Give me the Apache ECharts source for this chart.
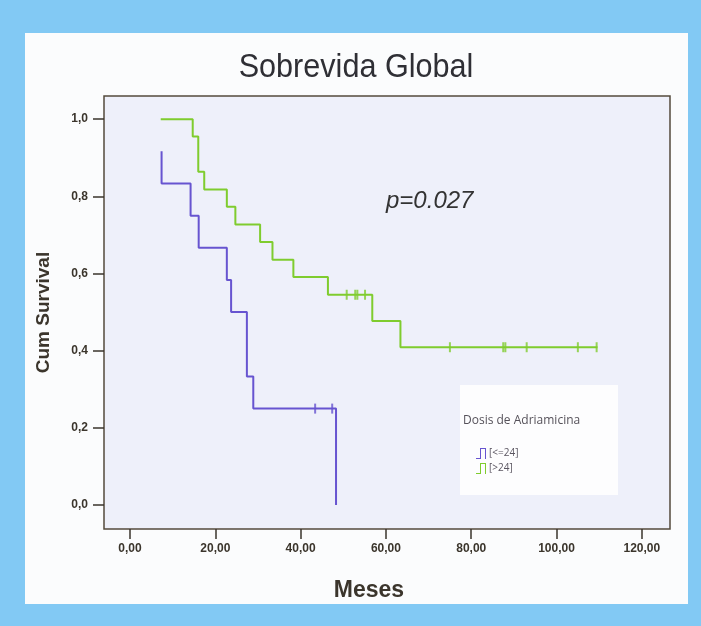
<!DOCTYPE html>
<html>
<head>
<meta charset="utf-8">
<script src="https://cdn.jsdelivr.net/npm/echarts@6/dist/echarts.min.js"></script>
<style>
  html, body { margin: 0; padding: 0; }
  #frame { position: relative; width: 701px; height: 626px; background: #82c9f4; }
  #panel { position: absolute; left: 25px; top: 33px; width: 663px; height: 571px; background: #fbfcfd; }
  #main { position: absolute; left: 0; top: 0; width: 701px; height: 626px; }
</style>
</head>
<body>
<div id="frame">
  <div id="panel"></div>
  <div id="main"></div>
</div>
<script>
// Kaplan-Meier steps: [month, cumulative survival]
const lowDose = [[7.4, 0.917], [7.4, 0.833], [14.2, 0.75], [16.1, 0.667], [22.7, 0.583],
  [23.7, 0.5], [27.4, 0.333], [28.9, 0.25], [48.3, 0.0]]
const highDose = [[7.2, 1.0], [14.7, 0.955], [16.0, 0.864], [17.4, 0.818], [22.7, 0.773],
  [24.7, 0.727], [30.5, 0.682], [33.4, 0.636], [38.3, 0.591], [46.4, 0.545],
  [56.8, 0.477], [63.4, 0.409], [109.6, 0.409]]
// censored observations
const lowCensored = [[43.4, 0.25], [47.4, 0.25]]
const highCensored = [[50.8, 0.545], [52.8, 0.545], [53.3, 0.545], [55.1, 0.545],
  [75.0, 0.409], [87.5, 0.409], [88.0, 0.409], [93.0, 0.409], [105.0, 0.409], [109.4, 0.409]]

const xTicks = [0, 20, 40, 60, 80, 100, 120]
const yTicks = [0, 0.2, 0.4, 0.6, 0.8, 1.0]
const groupNames = ['[<=24]', '[>24]']

const blue = '#6754d0'
const green = '#7fcc2e'
const ink = '#3b352c'

const chart = echarts.init(document.getElementById('main'))

const option = {
  animation: false,
  grid: {
    left: 104, right: 31, top: 96, bottom: 97,
    show: true,
    backgroundColor: '#eef0fa',
    borderColor: '#544a3c',
    borderWidth: 1.5
  },
  xAxis: {
    type: 'value',
    min: -6.1,
    max: 126.6,
    name: 'Meses',
    nameLocation: 'middle',
    nameGap: 50,
    nameTextStyle: {
      fontFamily: 'Liberation Sans', fontSize: 23, fontWeight: 'bold', color: ink,
      padding: [0, 36, 0, 0]
    },
    axisLine: { show: false, onZero: false },
    axisTick: { show: true, length: 10, customValues: xTicks, lineStyle: { color: ink, width: 1.5 } },
    axisLabel: {
      customValues: xTicks,
      margin: 14,
      fontFamily: 'Liberation Sans',
      fontSize: 12,
      fontWeight: 'bold',
      color: ink,
      formatter: v => v.toFixed(2).replace('.', ',')
    },
    splitLine: { show: false }
  },
  yAxis: {
    type: 'value',
    min: -0.062,
    max: 1.06,
    name: 'Cum Survival',
    nameLocation: 'middle',
    nameGap: 51,
    nameTextStyle: { fontFamily: 'Liberation Sans', fontSize: 19, fontWeight: 'bold', color: ink },
    axisLine: { show: false, onZero: false },
    axisTick: { show: true, length: 11, customValues: yTicks, lineStyle: { color: ink, width: 1.5 } },
    axisLabel: {
      customValues: yTicks,
      margin: 16,
      fontFamily: 'Liberation Sans',
      fontSize: 12,
      fontWeight: 'bold',
      color: ink,
      formatter: v => v.toFixed(1).replace('.', ',')
    },
    splitLine: { show: false }
  },
  legend: {
    data: groupNames,
    orient: 'vertical',
    left: 471,
    top: 443,
    itemWidth: 10,
    itemHeight: 11,
    itemGap: 4,
    icon: 'path://M0,10 L4,10 L4,0 L10,0 L10,11 L9,11 L9,1 L5,1 L5,11 L0,11 Z',
    textStyle: { fontFamily: 'Open Sans', fontSize: 10, color: '#5a5560', padding: [0, 0, 0, -2] }
  },
  graphic: [
    {
      // condensed title, like the original
      type: 'text', x: 356, y: 68, scaleX: 0.9, z: 2,
      style: {
        text: 'Sobrevida Global', fontFamily: 'Liberation Sans', fontSize: 34,
        fill: '#2f2f35', align: 'center', verticalAlign: 'middle'
      }
    },
    {
      type: 'rect', left: 460, top: 385, z: 1,
      shape: { width: 158, height: 110 },
      style: { fill: '#fdfdfe' }
    },
    {
      type: 'text', left: 463, top: 415, z: 2,
      style: { text: 'Dosis de Adriamicina', fontFamily: 'Open Sans', fontSize: 12, fill: '#56525a' }
    },
    {
      type: 'text', x: 386, y: 201, z: 2,
      style: {
        text: 'p=0.027', fontFamily: 'Liberation Sans', fontSize: 24, fontStyle: 'italic',
        fill: '#333', verticalAlign: 'middle'
      }
    }
  ],
  series: [
    {
      name: groupNames[0], type: 'line', step: 'end', data: lowDose,
      showSymbol: false, color: blue, lineStyle: { width: 2 }, z: 3
    },
    {
      name: groupNames[1], type: 'line', step: 'end', data: highDose,
      showSymbol: false, color: green, lineStyle: { width: 2 }, z: 3
    },
    {
      name: 'censor-low', type: 'scatter', data: lowCensored,
      symbol: 'rect', symbolSize: [2, 10], color: blue, z: 4
    },
    {
      name: 'censor-high', type: 'scatter', data: highCensored,
      symbol: 'rect', symbolSize: [2, 10], color: green, z: 4
    }
  ]
}

chart.setOption(option)
</script>
</body>
</html>
